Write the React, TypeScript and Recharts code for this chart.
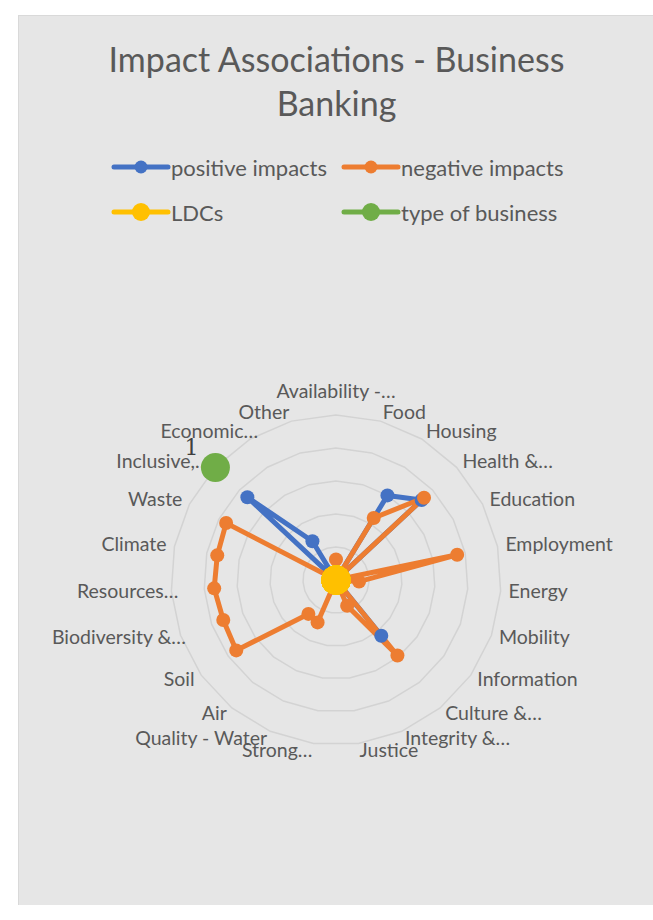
import React from "react";
import {
  RadarChart,
  Radar,
  PolarGrid,
  PolarAngleAxis,
  PolarRadiusAxis,
  Legend,
} from "recharts";

// category axis (labels as truncated in the source chart)
const categories = [
  "Availability -…",
  "Food",
  "Housing",
  "Health &…",
  "Education",
  "Employment",
  "Energy",
  "Mobility",
  "Information",
  "Culture &…",
  "Integrity &…",
  "Justice",
  "Strong…",
  "Quality - Water",
  "Air",
  "Soil",
  "Biodiversity &…",
  "Resources…",
  "Climate",
  "Waste",
  "Inclusive,…",
  "Economic…",
  "Other",
];

const positiveImpacts = [0, 0, 0.6, 0.71, 0, 0, 0, 0, 0, 0.435, 0, 0, 0, 0, 0, 0, 0, 0, 0, 0, 0.735, 0.275, 0];
const negativeImpacts = [0.125, 0, 0.44, 0.73, 0, 0.75, 0.14, 0, 0, 0.59, 0.17, 0, 0, 0.28, 0.265, 0.74, 0.725, 0.74, 0.735, 0.75, 0, 0, 0];
const ldcs = [0, 0, 0, 0, 0, 0, 0, 0, 0, 0, 0, 0, 0, 0, 0, 0, 0, 0, 0, 0, 0, 0, 0];
const typeOfBusiness = [null, null, null, null, null, null, null, null, null, null, null, null, null, null, null, null, null, null, null, null, 1, null, null];

const radiusTicks = [0, 0.2, 0.4, 0.6, 0.8, 1];

const data = categories.map((name, i) => ({
  name,
  positive: positiveImpacts[i],
  negative: negativeImpacts[i],
  ldcs: ldcs[i],
  business: typeOfBusiness[i],
}));

const FONT = "Lato, 'Open Sans', sans-serif";
const TEXT = "#595959";
const W = 635;
const H = 905;
const CX = 317;
const CY = 564;

// Excel nudges a few truncated labels outward
const labelNudge: Record<string, number> = {
  "Economic…": 12,
  "Resources…": 15,
  "Biodiversity &…": 13,
};

const series = [
  { key: "positive", name: "positive impacts", color: "#4472C4", r: 7 },
  { key: "negative", name: "negative impacts", color: "#ED7D31", r: 7 },
  { key: "ldcs", name: "LDCs", color: "#FFC000", r: 14.5 },
  { key: "business", name: "type of business", color: "#70AD47", r: 14.5 },
];

function AngleTick(props: any) {
  const { x, y, payload, textAnchor } = props;
  const dy = textAnchor === "middle" && y < CY ? -9 : 6;
  const dx = labelNudge[payload.value] || 0;
  return (
    <text x={x + dx} y={y} dy={dy} textAnchor={textAnchor} fill={TEXT} fontSize={19.5} fontFamily={FONT}>
      {payload.value}
    </text>
  );
}

function LegendBox() {
  return (
    <div style={{ position: "relative", width: W, height: 90 }}>
      {series.map((s, i) => {
        const col = i % 2;
        const row = Math.floor(i / 2);
        const left = col === 0 ? 92 : 322;
        const top = row * 45;
        return (
          <div key={s.key} style={{ position: "absolute", left, top, height: 26, display: "flex", alignItems: "center" }}>
            <svg width={60} height={26}>
              <line x1={3} y1={13} x2={57} y2={13} stroke={s.color} strokeWidth={5} strokeLinecap="round" />
              <circle cx={30} cy={13} r={s.r > 10 ? 9 : 6.5} fill={s.color} />
            </svg>
            <span style={{ fontFamily: FONT, fontSize: 22, color: TEXT }}>{s.name}</span>
          </div>
        );
      })}
    </div>
  );
}

function pickValue(p: any) {
  if (p.value != null && typeof p.value !== "object") return p.value;
  const pl = p.payload || {};
  if (pl.value != null && typeof pl.value !== "object") return pl.value;
  if (pl.business != null) return pl.business;
  if (pl.payload && pl.payload.business != null) return pl.payload.business;
  return null;
}

function businessDot(p: any) {
  const v = pickValue(p);
  if (v == null || !isFinite(p.cx) || !isFinite(p.cy)) return <g key={`b-${p.index}`} />;
  return <circle key={`b-${p.index}`} cx={p.cx} cy={p.cy} r={14.5} fill="#70AD47" />;
}

function businessLabel(p: any) {
  if (p.value == null || !isFinite(p.x) || !isFinite(p.y)) return null;
  return (
    <text x={p.x - 24} y={p.y - 12} textAnchor="middle" fontSize={22} fill="#404040" fontFamily="'DejaVu Serif', serif">
      {p.value}
    </text>
  );
}

export default function App() {
  return (
    <div style={{ position: "relative", left: 18, top: 15, width: W - 1, height: H - 1, background: "#e6e6e6", border: "1px solid #d9d9d9", borderRight: "none", borderBottom: "none" }}>
      <style>{`body{margin:0;overflow:hidden}`}</style>
      <div style={{ position: "absolute", top: 21, left: 0, width: W, textAlign: "center", fontFamily: FONT, fontSize: 34, lineHeight: "44px", color: TEXT }}>
        Impact Associations - Business
        <br />
        Banking
      </div>
      <RadarChart width={W} height={H} data={data} cx={CX} cy={CY} outerRadius={165} margin={{ top: 0, right: 0, bottom: 0, left: 0 }}>
        <PolarGrid gridType="polygon" radialLines={false} stroke="#d3d3d3" strokeWidth={1.5} />
        <PolarAngleAxis dataKey="name" tick={<AngleTick />} tickLine={false} axisLine={false} />
        <PolarRadiusAxis domain={[0, 1]} ticks={radiusTicks as any} tickCount={6} tick={false} axisLine={false} />
        <Radar dataKey="positive" name="positive impacts" stroke="#4472C4" strokeWidth={5} fill="none" dot={{ r: 7, fill: "#4472C4", stroke: "none" }} isAnimationActive={false} />
        <Radar dataKey="negative" name="negative impacts" stroke="#ED7D31" strokeWidth={5} fill="none" dot={{ r: 7, fill: "#ED7D31", stroke: "none" }} isAnimationActive={false} />
        <Radar dataKey="ldcs" name="LDCs" stroke="#FFC000" strokeWidth={5} fill="none" dot={{ r: 14.5, fill: "#FFC000", stroke: "none" }} isAnimationActive={false} />
        <Radar dataKey="business" name="type of business" stroke="none" fill="none" dot={businessDot} label={businessLabel} isAnimationActive={false} />
        <Legend content={<LegendBox />} wrapperStyle={{ position: "absolute", top: 138, left: 0, width: W }} />
      </RadarChart>
    </div>
  );
}
